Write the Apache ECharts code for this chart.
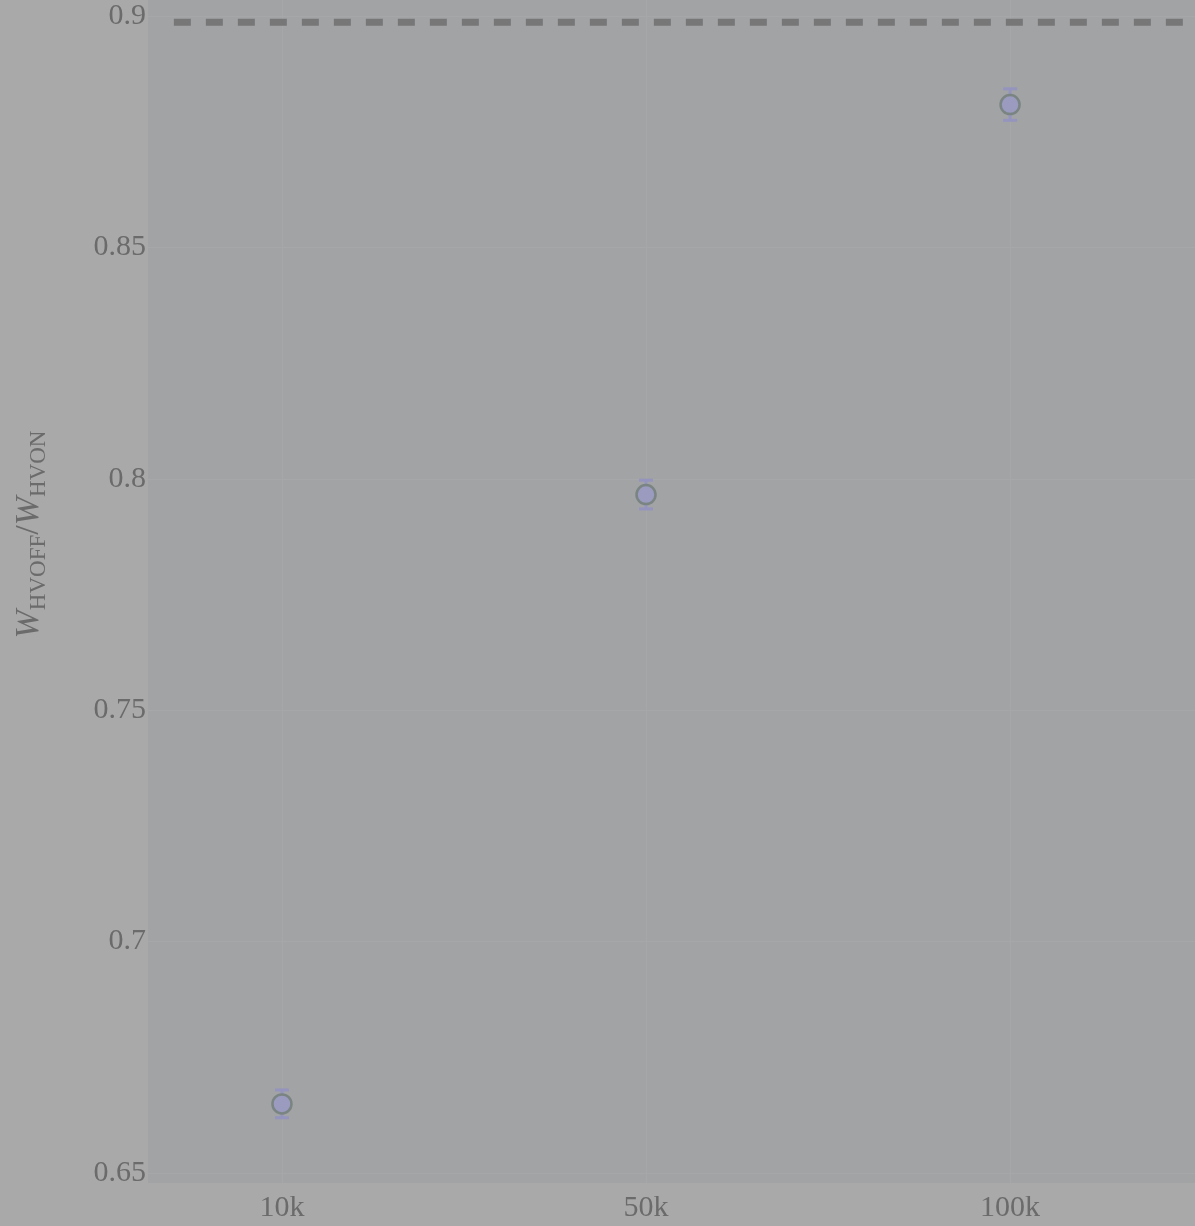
<!DOCTYPE html>
<html>
<head>
<meta charset="utf-8">
<script src="https://cdn.jsdelivr.net/npm/echarts@6/dist/echarts.min.js"></script>
<style>
  html, body { margin: 0; padding: 0; background: #a9a9a9; }
  #main { width: 1195px; height: 1226px; }
</style>
</head>
<body>
<div id="main"></div>
<script>
var categories = ['10k', '50k', '100k'];
var ratio = [0.6649, 0.7966, 0.8809];
var ratioErr = [0.0030, 0.0031, 0.0034];
var yTicks = [0.65, 0.7, 0.75, 0.8, 0.85, 0.9];
var refLevel = 0.8987;
var refStart = -0.297;

var dom = document.getElementById('main');
var chart = echarts.init(dom, null, { renderer: 'canvas' });

var catIndex = categories.map(function (c, i) { return i; });
var points = ratio.map(function (v, i) { return [i, v]; });
var bars = ratio.map(function (v, i) { return [i, v - ratioErr[i], v + ratioErr[i]]; });

var textColor = '#6b6b6b';
var serif = 'Liberation Serif, Times New Roman, serif';

var option = {
  backgroundColor: '#a9a9a9',
  animation: false,
  grid: {
    left: 148, right: 0, top: 0, bottom: 43,
    outerBoundsMode: 'none',
    containLabel: false,
    show: true,
    backgroundColor: '#a2a3a5',
    borderWidth: 0
  },
  xAxis: {
    type: 'value',
    min: -0.368,
    max: 2.508,
    axisLine: { show: false },
    axisTick: { show: false, customValues: catIndex },
    splitLine: { show: true, lineStyle: { color: '#a6a7a9', width: 1 } },
    axisLabel: {
      customValues: catIndex,
      formatter: function (v) { return categories[Math.round(v)]; },
      color: textColor,
      fontFamily: serif,
      fontSize: 30,
      margin: 10
    }
  },
  yAxis: {
    type: 'value',
    min: 0.6478,
    max: 0.9035,
    axisLine: { show: false },
    axisTick: { show: false, customValues: yTicks },
    splitLine: { show: true, lineStyle: { color: '#a6a7a9', width: 1 } },
    axisLabel: {
      customValues: yTicks,
      formatter: function (v) { return String(+v.toFixed(2)); },
      color: textColor,
      fontFamily: serif,
      fontSize: 30,
      margin: 2
    },
    name: '{i|W}{s|HVOFF}{n|/}{i|W}{s|HVON}',
    nameLocation: 'middle',
    nameRotate: 90,
    nameGap: 98,
    nameTextStyle: {
      color: textColor,
      fontFamily: serif,
      padding: [0, 0, 0, 114],
      rich: {
        i: { fontSize: 34, fontStyle: 'italic', fontFamily: serif, color: textColor, lineHeight: 42 },
        n: { fontSize: 34, fontFamily: serif, color: textColor, lineHeight: 42 },
        s: { fontSize: 23, fontFamily: serif, color: textColor, lineHeight: 42, verticalAlign: 'bottom' }
      }
    }
  },
  series: [
    {
      name: 'ref',
      type: 'line',
      data: [[refStart, refLevel], [2.508, refLevel]],
      symbol: 'none',
      lineStyle: { color: '#777777', width: 7, type: [17, 15] },
      z: 1
    },
    {
      name: 'err',
      type: 'custom',
      data: bars,
      z: 2,
      renderItem: function (params, api) {
        var x = api.value(0);
        var top = api.coord([x, api.value(2)]);
        var bot = api.coord([x, api.value(1)]);
        var w = 7;
        var style = { stroke: '#9494bf', lineWidth: 3 };
        return {
          type: 'group',
          children: [
            { type: 'line', shape: { x1: top[0], y1: top[1], x2: bot[0], y2: bot[1] }, style: style },
            { type: 'line', shape: { x1: top[0] - w, y1: top[1], x2: top[0] + w, y2: top[1] }, style: style },
            { type: 'line', shape: { x1: bot[0] - w, y1: bot[1], x2: bot[0] + w, y2: bot[1] }, style: style }
          ]
        };
      }
    },
    {
      name: 'ratio',
      type: 'scatter',
      data: points,
      symbol: 'circle',
      symbolSize: 19,
      z: 3,
      itemStyle: { color: '#9b9bbf', borderColor: '#7a8482', borderWidth: 2.5, opacity: 1 }
    }
  ]
};

chart.setOption(option);
window.addEventListener('resize', chart.resize);
</script>
</body>
</html>
